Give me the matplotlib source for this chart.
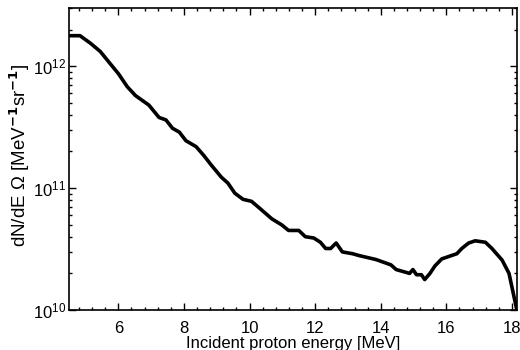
import matplotlib
matplotlib.use("Agg")
import matplotlib.pyplot as plt
from matplotlib.ticker import AutoMinorLocator, LogLocator, NullFormatter

plt.rcParams['font.family'] = ['Liberation Sans', 'DejaVu Sans']
plt.rcParams['mathtext.default'] = 'regular'

# proton energy [MeV] and dN/dE Omega [MeV^-1 sr^-1]
energy = [4.52, 4.83, 5.14, 5.45, 5.75, 6.00, 6.27, 6.52, 6.93, 7.24, 7.45, 7.65, 7.86,
          8.06, 8.37, 8.60, 8.83, 9.14, 9.34, 9.55, 9.80, 10.06, 10.32, 10.68, 10.98,
          11.19, 11.50, 11.70, 11.96, 12.16, 12.32, 12.47, 12.64, 12.83, 13.14, 13.34,
          13.85, 14.31, 14.47, 14.88, 14.98, 15.09, 15.24, 15.34, 15.50, 15.65, 15.86,
          16.32, 16.47, 16.68, 16.88, 17.19, 17.39, 17.70, 17.91, 18.15]
flux = [1.78e12, 1.78e12, 1.55e12, 1.32e12, 1.05e12, 8.7e11, 6.8e11, 5.75e11, 4.8e11,
        3.8e11, 3.63e11, 3.1e11, 2.88e11, 2.45e11, 2.19e11, 1.86e11, 1.55e11, 1.23e11,
        1.10e11, 9.1e10, 8.1e10, 7.8e10, 6.8e10, 5.6e10, 5.0e10, 4.5e10, 4.5e10, 4.0e10,
        3.9e10, 3.6e10, 3.2e10, 3.2e10, 3.55e10, 3.0e10, 2.9e10, 2.8e10, 2.6e10, 2.35e10,
        2.15e10, 2.0e10, 2.15e10, 1.95e10, 1.95e10, 1.78e10, 2.0e10, 2.3e10, 2.63e10,
        2.9e10, 3.2e10, 3.55e10, 3.7e10, 3.6e10, 3.2e10, 2.57e10, 2.0e10, 1.0e10]

fig = plt.figure(figsize=(5.2, 3.5), dpi=100)
ax = fig.add_axes([0.133, 0.114, 0.861, 0.863])
ax.plot(energy, flux, color="black", lw=2.6, solid_joinstyle="round")
ax.set_yscale("log")
ax.set_xlim(4.5, 18.15)
ax.set_ylim(1e10, 3e12)
ax.set_xticks([6, 8, 10, 12, 14, 16, 18])
ax.xaxis.set_minor_locator(AutoMinorLocator(5))
ax.yaxis.set_major_locator(LogLocator(base=10))
ax.yaxis.set_minor_locator(LogLocator(base=10, subs=range(2, 10)))
ax.yaxis.set_minor_formatter(NullFormatter())
ax.tick_params(which="both", direction="in", top=True, right=True, labelsize=12, width=1)
ax.tick_params(which="major", length=5)
ax.tick_params(which="minor", length=2.5)
ax.tick_params(axis="x", pad=8)
ax.tick_params(axis="y", pad=2)
for s in ax.spines.values():
    s.set_linewidth(1.2)
ax.set_xlabel("Incident proton energy [MeV]", fontsize=12)
ax.set_ylabel("dN/dE Ω [MeV$^{\\mathbf{-1}}$sr$^{\\mathbf{-1}}$]", fontsize=13.5)
ax.xaxis.set_label_coords(0.5, -0.086)
ax.yaxis.set_label_coords(-0.083, 0.513)
fig.savefig("out.png", dpi=100)
